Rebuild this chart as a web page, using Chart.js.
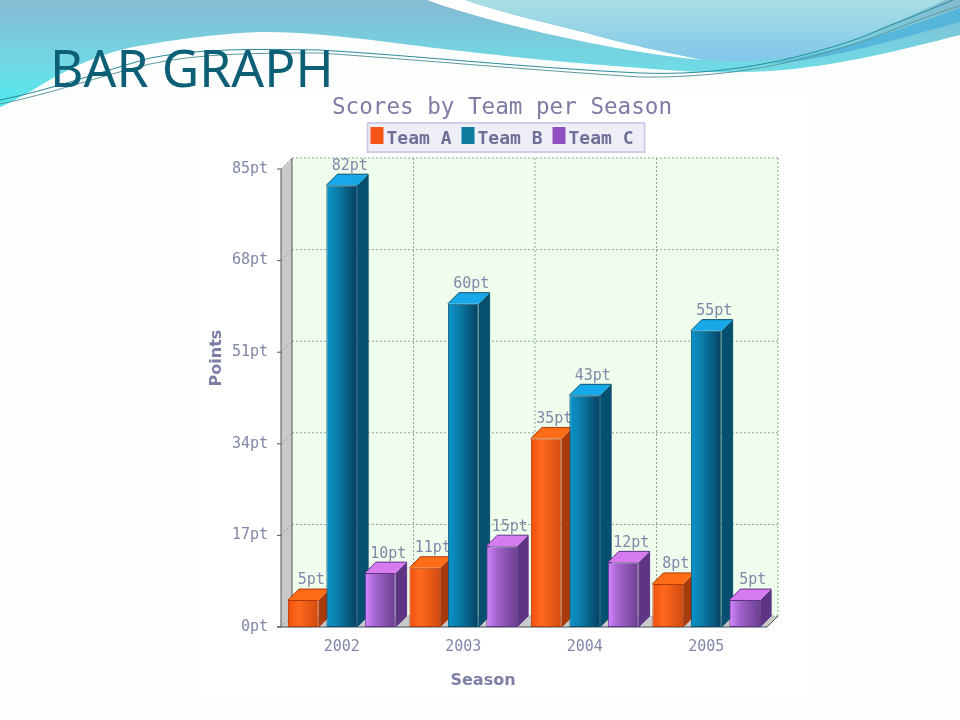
<!DOCTYPE html>
<html>
<head>
<meta charset="utf-8">
<title>Bar graph</title>
<script src="https://cdn.jsdelivr.net/npm/chart.js@4"></script>
<style>
    html, body { margin: 0; padding: 0; width: 960px; height: 720px; overflow: hidden; background: #fcfdfd; }
    #waves { position: absolute; left: 0; top: 0; }
    #heading { position: absolute; left: 50px; top: 32px; margin: 0; font: 400 51.5px "Noto Sans", sans-serif; color: #0d5f75; line-height: 70px; }
    #panel { position: absolute; left: 200px; top: 90px; width: 608px; height: 607px; background: #ffffff; }
    #chart { position: absolute; left: 198px; top: 90px; }
</style>
</head>
<body>

<!-- Slide theme behind the chart -->
<svg id="waves" width="960" height="720">
    <defs>
        <linearGradient id="seaFill" gradientUnits="userSpaceOnUse" x1="0" y1="0" x2="0" y2="107">
            <stop offset="0" stop-color="#86bad3"/>
            <stop offset="0.37" stop-color="#78cddd"/>
            <stop offset="0.65" stop-color="#6fdbe6"/>
            <stop offset="1" stop-color="#4fe9ef"/>
        </linearGradient>
        <linearGradient id="skyFill" gradientUnits="userSpaceOnUse" x1="0" y1="0" x2="0" y2="62">
            <stop offset="0" stop-color="#a9e0e3"/>
            <stop offset="1" stop-color="#80c6ea"/>
        </linearGradient>
    </defs>
    <path fill="url(#seaFill)" d="M0,0 L960,0 L960,35 C900,50 840,66 770,71 C720,74 690,72 640,68 C560,62 480,54 387,42 C340,36 300,32 267,32 C230,32 170,40 133,47 C100,54 70,67 33,90 C20,97 10,103 0,107 Z"/>
    <path fill="#ffffff" d="M427,0 C447,8 510,26 553,35 C600,46 660,56 703,60 C670,53 620,43 587,33 C550,24 500,12 465,0 Z"/>
    <path fill="url(#skyFill)" d="M465,0 C500,12 550,24 587,33 C620,43 670,53 703,60 C730,62 770,62 800,56 C840,47 890,25 945,0 Z"/>
    <path fill="#55b6da" d="M960,8 C900,30 840,50 770,64 C840,58 900,38 960,22 Z"/>
    <path fill="none" stroke="#2a8a98" stroke-width="1" d="M0,100 C50,90 100,72 150,58 C200,48 260,49 320,50 C420,56 530,68 640,73 C720,76 790,62 860,38 C890,25 930,10 953,0"/>
    <path fill="none" stroke="#5f9a9c" stroke-width="1" d="M0,104 C50,94 100,76 150,64 C200,53 260,53 320,53 C420,60 530,70 640,77 C720,78 790,66 860,42 C890,32 930,14 960,6"/>
</svg>

<h1 id="heading">BAR GRAPH</h1>
<div id="panel"></div>
<canvas id="chart" width="608" height="607"></canvas>

<script>
// Values
const seasons = ["2002", "2003", "2004", "2005"];
const teamNames = ["Team A", "Team B", "Team C"];
const teamA = [5, 11, 35, 8];
const teamB = [82, 60, 43, 55];
const teamC = [10, 15, 12, 5];
const yTicks = [0, 17, 34, 51, 68, 85];

const chartTitle = "Scores by Team per Season";
const xTitle = "Season";
const yTitle = "Points";

// Colours of each team: swatch, outline, top face, side face, then the front gradient
const swatchColors = ["#fa5519", "#0d7a9e", "#9050c0"];
const edgeColors = ["#b23a0a", "#0a4f6e", "#5c3585"];
const topColors = ["#ff6c16", "#16a8e8", "#d67cf0"];
const sideColors = ["#a93a0c", "#05506f", "#5e3585"];
const frontStops = [
    ["#f04f10", "#ff6a1c", "#d04a10"],
    ["#0a94cc", "#0b7eaa", "#063f60"],
    ["#d585ff", "#a263cc", "#6b3f90"]
];

const textColor = "#8187a8";
const legendColor = "#6f6f98";
const monoFont = '"DejaVu Sans Mono", monospace';
const depth = 11;
const categoryShare = 0.95;
const barShare = 0.8;

// Builds the left to right shine of one bar from the scale position of its slot
function front_gradient(context) {
    const team = context.datasetIndex;
    if (context.dataIndex === undefined) {
        return swatchColors[team];
    }
    const xScale = context.chart.scales.x;
    const slot = xScale.width / seasons.length * categoryShare / teamNames.length;
    const centre = xScale.getPixelForValue(context.dataIndex) + (team - 1) * slot;
    const half = slot * barShare / 2;
    const gradient = context.chart.ctx.createLinearGradient(centre - half, 0, centre + half, 0);
    gradient.addColorStop(0, frontStops[team][0]);
    gradient.addColorStop(0.35, frontStops[team][1]);
    gradient.addColorStop(1, frontStops[team][2]);
    return gradient;
}

function fill_shape(ctx, color, points) {
    ctx.fillStyle = color;
    ctx.beginPath();
    points.forEach(function (point, i) {
        if (i === 0) {
            ctx.moveTo(point[0], point[1]);
        } else {
            ctx.lineTo(point[0], point[1]);
        }
    });
    ctx.closePath();
    ctx.fill();
}

function stroke_line(ctx, x1, y1, x2, y2) {
    ctx.beginPath();
    ctx.moveTo(x1, y1);
    ctx.lineTo(x2, y2);
    ctx.stroke();
}

// Back wall, side wall, floor, grid and axis marks
const wallsPlugin = {
    id: "walls",
    beforeDatasetsDraw: function (chart) {
        const ctx = chart.ctx;
        const area = chart.chartArea;
        const xScale = chart.scales.x;
        const yScale = chart.scales.y;

        ctx.save();
        fill_shape(ctx, "#effeec", [
            [area.left + depth, area.top - depth],
            [area.right + depth, area.top - depth],
            [area.right + depth, area.bottom - depth],
            [area.left + depth, area.bottom - depth]
        ]);
        fill_shape(ctx, "#c9c9c9", [
            [area.left, area.top],
            [area.left + depth, area.top - depth],
            [area.left + depth, area.bottom - depth],
            [area.left, area.bottom]
        ]);
        fill_shape(ctx, "#c9c9c9", [
            [area.left, area.bottom],
            [area.left + depth, area.bottom - depth],
            [area.right + depth, area.bottom - depth],
            [area.right, area.bottom]
        ]);

        ctx.lineWidth = 1;
        ctx.strokeStyle = "#8fa58f";
        ctx.setLineDash([2, 2]);
        yTicks.forEach(function (tick) {
            const y = yScale.getPixelForValue(tick);
            stroke_line(ctx, area.left + depth, y - depth, area.right + depth, y - depth);
            stroke_line(ctx, area.left, y, area.left + depth, y - depth);
        });
        const step = xScale.width / seasons.length;
        seasons.forEach(function (season, i) {
            const x = xScale.getPixelForValue(i) + step / 2 + depth;
            stroke_line(ctx, x, area.top - depth, x, area.bottom - depth);
        });
        ctx.setLineDash([]);

        ctx.strokeStyle = "#555555";
        stroke_line(ctx, area.left, area.top, area.left, area.bottom);
        stroke_line(ctx, area.left + depth, area.top - depth, area.left + depth, area.bottom - depth);
        stroke_line(ctx, area.right, area.bottom, area.right + depth, area.bottom - depth);
        yTicks.forEach(function (tick) {
            const y = yScale.getPixelForValue(tick);
            stroke_line(ctx, area.left - 4, y, area.left, y);
        });
        ctx.strokeStyle = "#39505a";
        stroke_line(ctx, area.left - 4, area.bottom, area.right, area.bottom);
        ctx.restore();
    }
};

// The blocks are painted from Team A to Team C so each one overlaps the one on its left
const blocksPlugin = {
    id: "blocks",
    beforeDatasetDraw: function () {
        return false;
    },
    afterDatasetsDraw: function (chart) {
        const ctx = chart.ctx;
        teamNames.forEach(function (name, team) {
            const meta = chart.getDatasetMeta(team);
            const values = chart.data.datasets[team].data;

            ctx.save();
            meta.data.forEach(function (bar) {
                const left = bar.x - bar.width / 2;
                const right = bar.x + bar.width / 2;
                fill_shape(ctx, sideColors[team], [
                    [right, bar.y],
                    [right + depth, bar.y - depth],
                    [right + depth, bar.base - depth],
                    [right, bar.base]
                ]);
                fill_shape(ctx, topColors[team], [
                    [left, bar.y],
                    [left + depth, bar.y - depth],
                    [right + depth, bar.y - depth],
                    [right, bar.y]
                ]);
                ctx.strokeStyle = edgeColors[team];
                ctx.lineWidth = 1;
                ctx.beginPath();
                ctx.moveTo(left, bar.y);
                ctx.lineTo(left + depth, bar.y - depth);
                ctx.lineTo(right + depth, bar.y - depth);
                ctx.lineTo(right + depth, bar.base - depth);
                ctx.lineTo(right, bar.base);
                ctx.stroke();
            });
            ctx.restore();

            meta.controller.draw();

            ctx.save();
            ctx.font = "15px " + monoFont;
            ctx.fillStyle = textColor;
            ctx.textAlign = "center";
            ctx.textBaseline = "middle";
            meta.data.forEach(function (bar, i) {
                ctx.fillText(values[i] + "pt", bar.x + 8, bar.y - 19.5);
            });
            ctx.restore();
        });
    }
};

// Legend frame and swatches, and the two axis titles which sit off centre
const framePlugin = {
    id: "frame",
    beforeDraw: function (chart) {
        const ctx = chart.ctx;
        const boxes = chart.legend.legendHitBoxes;
        const last = boxes[boxes.length - 1];
        ctx.save();
        ctx.fillStyle = "#eeeef6";
        ctx.strokeStyle = "#cfcfea";
        ctx.lineWidth = 2;
        ctx.beginPath();
        ctx.rect(boxes[0].left - 3, chart.legend.top + 3, last.left + last.width + 11 - boxes[0].left + 3, 29);
        ctx.fill();
        ctx.stroke();
        boxes.forEach(function (box, i) {
            ctx.fillStyle = swatchColors[i];
            ctx.fillRect(box.left, chart.legend.top + 7, 13, 17);
        });
        ctx.restore();
    },
    afterDraw: function (chart) {
        const ctx = chart.ctx;
        ctx.save();
        ctx.font = 'bold 16px "DejaVu Sans", sans-serif';
        ctx.fillStyle = "#7c7fa6";
        ctx.textAlign = "center";
        ctx.textBaseline = "middle";
        ctx.fillText(xTitle, 285, 591);
        ctx.translate(19, 268);
        ctx.rotate(-Math.PI / 2);
        ctx.fillText(yTitle, 0, 0);
        ctx.restore();
    }
};

new Chart(document.getElementById("chart"), {
    type: "bar",
    data: {
        labels: seasons,
        datasets: [
            { label: teamNames[0], data: teamA },
            { label: teamNames[1], data: teamB },
            { label: teamNames[2], data: teamC }
        ].map(function (dataset, i) {
            dataset.backgroundColor = front_gradient;
            dataset.borderColor = edgeColors[i];
            dataset.borderWidth = 1;
            dataset.borderSkipped = false;
            dataset.categoryPercentage = categoryShare;
            dataset.barPercentage = barShare;
            return dataset;
        })
    },
    plugins: [framePlugin, wallsPlugin, blocksPlugin],
    options: {
        responsive: false,
        animation: false,
        plugins: {
            tooltip: { enabled: false },
            title: {
                display: true,
                text: chartTitle,
                color: "#7c7ca4",
                font: { family: monoFont, size: 22.6, weight: "normal", lineHeight: 1 },
                padding: { top: 7, bottom: 0.4 }
            },
            legend: {
                position: "top",
                weight: 1800,
                labels: {
                    boxWidth: 7,
                    boxHeight: 7,
                    padding: 10,
                    color: legendColor,
                    font: { family: monoFont, size: 18, weight: "bold" },
                    generateLabels: function () {
                        return teamNames.map(function (name, i) {
                            return {
                                text: name,
                                datasetIndex: i,
                                fontColor: legendColor,
                                fillStyle: "rgba(0,0,0,0)",
                                strokeStyle: "rgba(0,0,0,0)",
                                lineWidth: 0
                            };
                        });
                    }
                }
            },
            // Empty strip that keeps the plot clear of the legend
            subtitle: {
                display: true,
                text: "",
                font: { size: 1, lineHeight: 1 },
                padding: { top: 10, bottom: 0 }
            }
        },
        scales: {
            x: {
                grid: { display: false },
                border: { display: false },
                ticks: { color: textColor, padding: 3, font: { family: monoFont, size: 15 } },
                afterFit: function (scale) { scale.height = 70; }
            },
            y: {
                min: 0,
                max: 85,
                grid: { display: false },
                border: { display: false },
                afterBuildTicks: function (scale) {
                    scale.ticks = yTicks.map(function (value) { return { value: value }; });
                },
                ticks: {
                    color: textColor,
                    padding: 5,
                    font: { family: monoFont, size: 15 },
                    callback: function (value) { return value + "pt"; }
                },
                afterFit: function (scale) { scale.width = 83; }
            },
            // Blank axis that only leaves the margin to the right of the plot
            rightMargin: {
                position: "right",
                grid: { display: false },
                border: { display: false },
                ticks: { display: false },
                afterFit: function (scale) { scale.width = 39; }
            }
        }
    }
});
</script>
</body>
</html>
